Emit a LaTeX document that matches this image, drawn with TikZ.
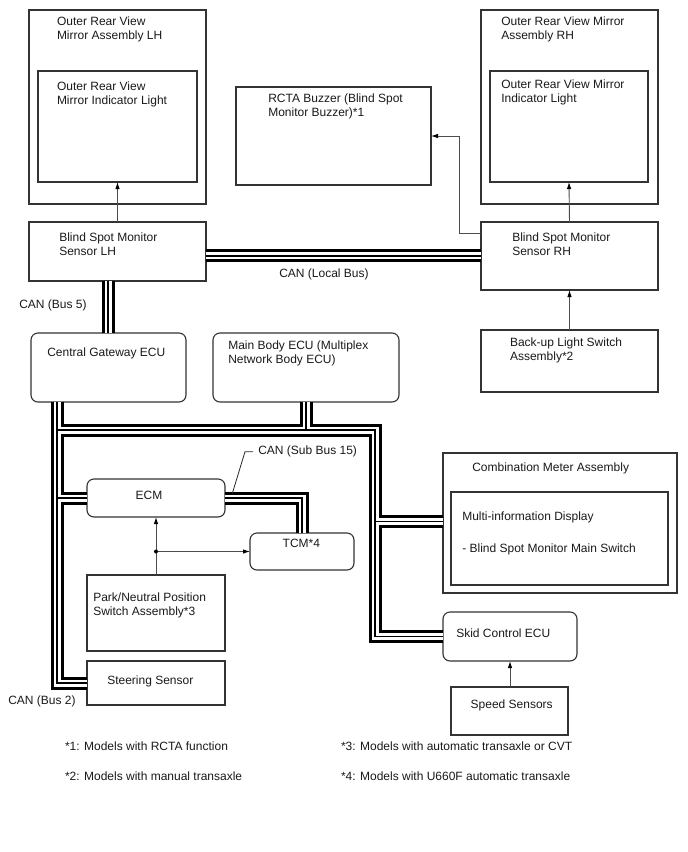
\documentclass[tikz,border=0pt]{standalone}
\usepackage{fontspec}
\setmainfont{Liberation Sans}
\usetikzlibrary{arrows.meta,calc}
\newcommand\mybuses[1]{%
  \draw[#1] (bsml.south -| b5x) -- (cgw.north -| b5x);
  \draw[#1] (bsml.east |- lbY) -- (bsmr.west |- lbY);
  \draw[#1] (cgw.south -| b2x) -- (b2x |- ss.west) -- (ss.west);
  \draw[#1] (b2x |- ecm.west) -- (ecm.west);
  \draw[#1] (b2x |- hY) -- (rx |- hY) -- (rx |- skid.west) -- (skid.west);
  \draw[#1] (rx |- cY) -- (cma.west |- cY);
  \draw[#1] (mbe.south) -- (mbe.south |- hY);
  \draw[#1] (ecm.east) -| (tcm.north);
}
\begin{document}
\begin{tikzpicture}[x=1pt,y=-1pt,
  box/.style={draw=black!80,line width=1.1pt,inner sep=0pt,outer sep=0pt,anchor=north west},
  rbox/.style={box,rounded corners=7pt},
  lbl/.style={anchor=base west,inner sep=0pt,outer sep=0pt,font=\fontsize{12}{14}\selectfont,text=black!90},
  arr/.style={draw=black!70,line width=0.9pt,-{Latex[length=7pt,width=4.5pt,color=black]}},
  busout/.style={line width=13pt,draw=black},
  busmid/.style={line width=7pt,draw=white},
  busin/.style={line width=1.5pt,draw=black},
]
\useasboundingbox (0,0) rectangle (688,852);
% boxes
\node[box,minimum width=177pt,minimum height=194pt] (asml) at (29,10) {};
\node[box,minimum width=159pt,minimum height=111pt] (indl) at (38,71) {};
\node[box,minimum width=177pt,minimum height=59pt] (bsml) at (29,222) {};
\node[box,minimum width=195pt,minimum height=98pt] (buzz) at (236,87) {};
\node[box,minimum width=177pt,minimum height=194pt] (asmr) at (481,10) {};
\node[box,minimum width=158pt,minimum height=111pt] (indr) at (490,71) {};
\node[box,minimum width=177pt,minimum height=68pt] (bsmr) at (481,222) {};
\node[box,minimum width=177pt,minimum height=62pt] (bul) at (481,330) {};
\node[rbox,minimum width=155pt,minimum height=69pt] (cgw) at (31,333) {};
\node[rbox,minimum width=186pt,minimum height=69pt] (mbe) at (213,333) {};
\node[rbox,minimum width=138pt,minimum height=38pt] (ecm) at (87,479) {};
\node[rbox,minimum width=104pt,minimum height=37pt] (tcm) at (250,533) {};
\node[box,minimum width=138pt,minimum height=76pt] (pn) at (87,575) {};
\node[box,minimum width=138pt,minimum height=44pt] (ss) at (87,661) {};
\node[box,minimum width=234pt,minimum height=140pt] (cma) at (443,453) {};
\node[box,minimum width=217pt,minimum height=93pt] (mid) at (451,492) {};
\node[rbox,minimum width=134pt,minimum height=49pt] (skid) at (443,612) {};
\node[box,minimum width=117pt,minimum height=48pt] (spd) at (451,687) {};
% bus helper coordinates
\coordinate (b5x) at (108,0);
\coordinate (b2x) at (57,0);
\coordinate (rx) at (375,0);
\coordinate (lbY) at (0,255.8);
\coordinate (hY) at (0,430);
\coordinate (cY) at (0,521.5);
\mybuses{busout}
\mybuses{busmid}
\mybuses{busin}
% arrows
\draw[arr] (bsml.north) -- (indl.south);
\draw[arr] (bsmr.north) -- (indr.south);
\draw[arr] (bul.north) -- (bsmr.south);
\coordinate (rs) at (481,233);
\coordinate (rk) at (459,233);
\draw[arr] (rs) -- (rk) |- (buzz.east);
\coordinate (dot) at (pn.north |- tcm.west);
\draw[arr] (pn.north) -- (ecm.south);
\draw[arr] (dot) -- (tcm.west);
\fill[black] (dot) circle (2pt);
\draw[arr] (spd.north -| skid.south) -- (skid.south);
% leader
\coordinate (ld1) at (253,451.7);
\coordinate (ld2) at (245,451.7);
\coordinate (ld3) at (232.3,493.5);
\draw[line width=0.8pt,black!85] (ld1) -- (ld2) -- (ld3);
% labels
\node[lbl] (t1) at (57,25) {Outer Rear View};
\node[lbl] (t2) at (57,39) {Mirror Assembly LH};
\node[lbl] (t3) at (57,90) {Outer Rear View};
\node[lbl] (t4) at (57,104) {Mirror Indicator Light};
\node[lbl] (t5) at (59.3,241.7) {Blind Spot Monitor};
\node[lbl] (t6) at (59.3,255.5) {Sensor LH};
\node[lbl] (t7) at (268.3,102.7) {RCTA Buzzer (Blind Spot};
\node[lbl] (t8) at (268.3,116.5) {Monitor Buzzer)*1};
\node[lbl] (t9) at (501.3,25) {Outer Rear View Mirror};
\node[lbl] (t10) at (501.3,39) {Assembly RH};
\node[lbl] (t11) at (501.3,88.3) {Outer Rear View Mirror};
\node[lbl] (t12) at (501.3,102.3) {Indicator Light};
\node[lbl] (t13) at (512.3,241.7) {Blind Spot Monitor};
\node[lbl] (t14) at (512.3,255.5) {Sensor RH};
\node[lbl] (t15) at (510,346) {Back-up Light Switch};
\node[lbl] (t16) at (510,360) {Assembly*2};
\node[lbl] (t17) at (279.3,277.7) {CAN (Local Bus)};
\node[lbl] (t18) at (19.3,308.3) {CAN (Bus 5)};
\node[lbl] (t19) at (47.3,356) {Central Gateway ECU};
\node[lbl] (t20) at (228.3,349) {Main Body ECU (Multiplex};
\node[lbl] (t21) at (228.3,363) {Network Body ECU)};
\node[lbl] (t22) at (258.3,454.3) {CAN (Sub Bus 15)};
\node[lbl] (t23) at (135.7,499) {ECM};
\node[lbl] (t24) at (282.7,547.3) {TCM*4};
\node[lbl] (t25) at (93.3,601.7) {Park/Neutral Position};
\node[lbl] (t26) at (93.3,615.5) {Switch Assembly*3};
\node[lbl] (t27) at (107.3,684) {Steering Sensor};
\node[lbl] (t28) at (8.3,704) {CAN (Bus 2)};
\node[lbl] (t29) at (472.3,471.7) {Combination Meter Assembly};
\node[lbl] (t30) at (462.3,520) {Multi-information Display};
\node[lbl] (t31) at (462.3,552.3) {- Blind Spot Monitor Main Switch};
\node[lbl] (t32) at (456.3,637.3) {Skid Control ECU};
\node[lbl] (t33) at (470.7,708.7) {Speed Sensors};
\node[lbl] (t34) at (65,750) {*1: Models with RCTA function};
\node[lbl] (t35) at (65,780) {*2: Models with manual transaxle};
\node[lbl] (t36) at (341,750) {*3: Models with automatic transaxle or CVT};
\node[lbl] (t37) at (341,780) {*4: Models with U660F automatic transaxle};
\end{tikzpicture}
\end{document}
